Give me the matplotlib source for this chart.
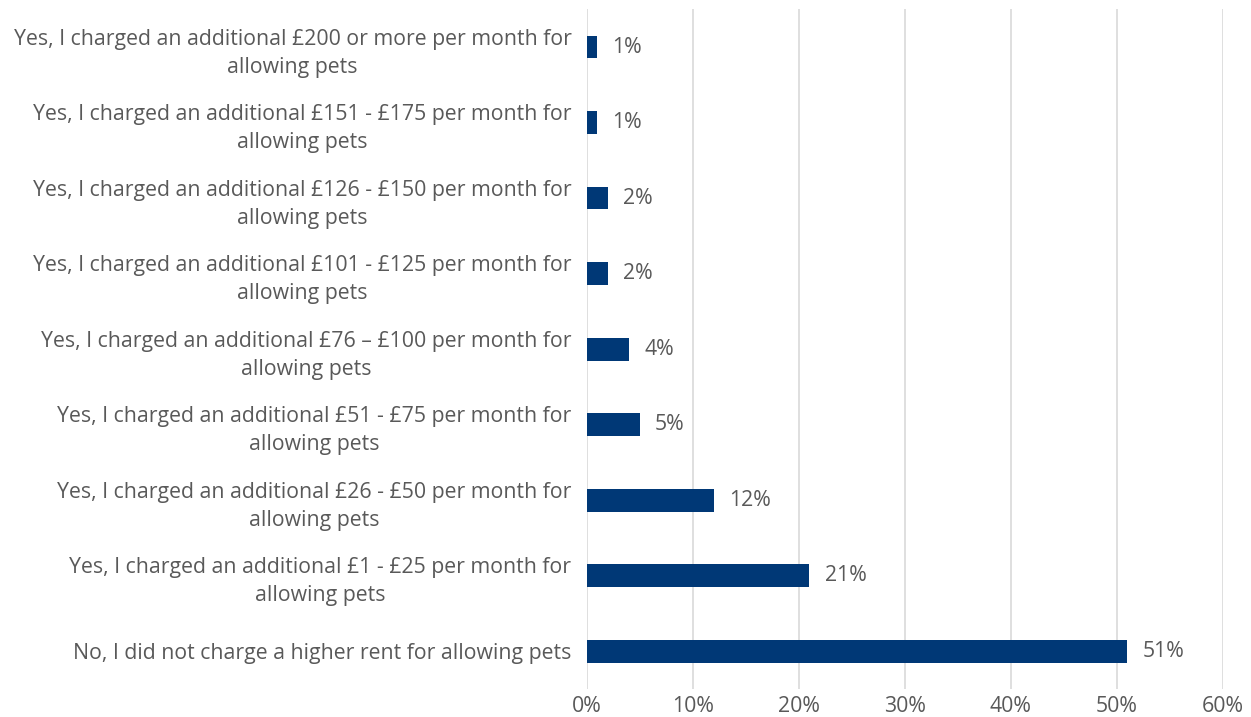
import matplotlib
matplotlib.use("Agg")
import matplotlib.pyplot as plt
from matplotlib.transforms import offset_copy

categories = [
    "Yes, I charged an additional £200 or more per month for\nallowing pets",
    "Yes, I charged an additional £151 - £175 per month for\nallowing pets",
    "Yes, I charged an additional £126 - £150 per month for\nallowing pets",
    "Yes, I charged an additional £101 - £125 per month for\nallowing pets",
    "Yes, I charged an additional £76 – £100 per month for\nallowing pets",
    "Yes, I charged an additional £51 - £75 per month for\nallowing pets",
    "Yes, I charged an additional £26 - £50 per month for\nallowing pets",
    "Yes, I charged an additional £1 - £25 per month for\nallowing pets",
    "No, I did not charge a higher rent for allowing pets",
]
values = [1, 1, 2, 2, 4, 5, 12, 21, 51]
ticks = [0, 10, 20, 30, 40, 50, 60]
tick_labels = ["0%", "10%", "20%", "30%", "40%", "50%", "60%"]

plt.rcParams['font.family'] = ['Open Sans', 'DejaVu Sans']
textc = "#595959"
fs = 15.3

fig = plt.figure(figsize=(12.51, 7.17), dpi=100)
ax = fig.add_axes([0.469, 0.039, 0.5084, 0.948])
n = len(categories)
ypos = list(range(n))
ax.barh(ypos, values, height=0.3, color="#003876", zorder=3)
lab_tr = offset_copy(ax.transData, fig=fig, x=11, y=0, units="points")
for y, v in zip(ypos, values):
    ax.text(v, y, f"{v}%", va="center", ha="left", fontsize=fs, color=textc,
            transform=lab_tr)
ax.set_yticks(ypos)
ax.set_yticklabels(categories, fontsize=fs, color=textc, ha="right",
                   multialignment="center", linespacing=1.45)
ax.tick_params(axis="y", length=0, pad=11)
ax.set_ylim(n - 0.5, -0.5)
ax.set_xlim(0, 60)
ax.set_xticks(ticks)
ax.set_xticklabels(tick_labels, fontsize=fs, color=textc)
ax.tick_params(axis="x", length=0, pad=5)
ax.grid(axis="x", color="#d9d9d9", linewidth=1.2, zorder=0)
for s in ax.spines.values():
    s.set_visible(False)
fig.savefig("out.png", dpi=100)
